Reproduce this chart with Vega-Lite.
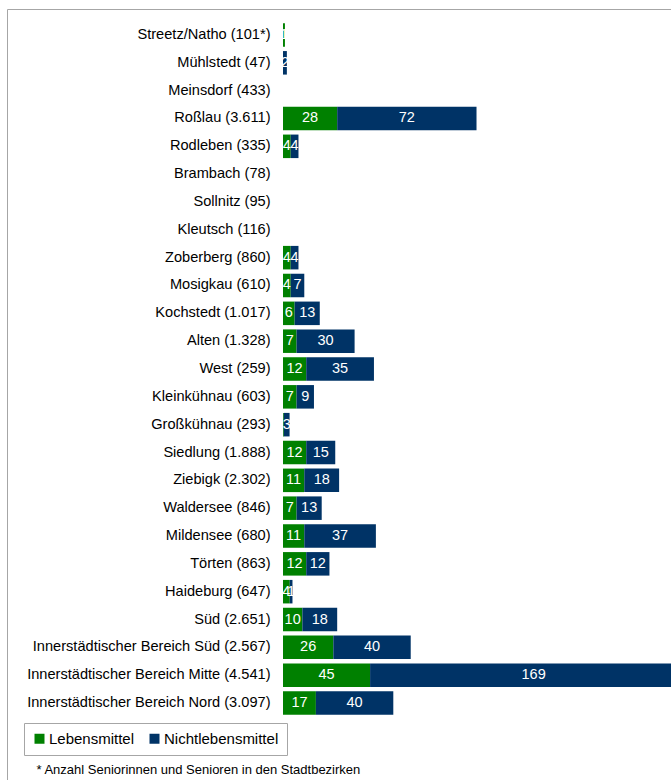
{
  "$schema": "https://vega.github.io/schema/vega-lite/v6.json",
  "autosize": "none",
  "padding": {"left": 7, "top": 9, "right": 0, "bottom": 0},
  "width": 700,
  "height": 772,
  "background": "white",
  "config": {
    "font": "Liberation Sans",
    "view": {"stroke": "#a6a6a6", "strokeWidth": 1}
  },
  "data": {
    "values": [
      {"bezirk": "Streetz/Natho (101*)", "art": "Lebensmittel", "wert": 1},
      {"bezirk": "Streetz/Natho (101*)", "art": "Nichtlebensmittel", "wert": 0},
      {"bezirk": "Mühlstedt (47)", "art": "Lebensmittel", "wert": 0},
      {"bezirk": "Mühlstedt (47)", "art": "Nichtlebensmittel", "wert": 2},
      {"bezirk": "Meinsdorf (433)", "art": "Lebensmittel", "wert": 0},
      {"bezirk": "Meinsdorf (433)", "art": "Nichtlebensmittel", "wert": 0},
      {"bezirk": "Roßlau (3.611)", "art": "Lebensmittel", "wert": 28},
      {"bezirk": "Roßlau (3.611)", "art": "Nichtlebensmittel", "wert": 72},
      {"bezirk": "Rodleben (335)", "art": "Lebensmittel", "wert": 4},
      {"bezirk": "Rodleben (335)", "art": "Nichtlebensmittel", "wert": 4},
      {"bezirk": "Brambach (78)", "art": "Lebensmittel", "wert": 0},
      {"bezirk": "Brambach (78)", "art": "Nichtlebensmittel", "wert": 0},
      {"bezirk": "Sollnitz (95)", "art": "Lebensmittel", "wert": 0},
      {"bezirk": "Sollnitz (95)", "art": "Nichtlebensmittel", "wert": 0},
      {"bezirk": "Kleutsch (116)", "art": "Lebensmittel", "wert": 0},
      {"bezirk": "Kleutsch (116)", "art": "Nichtlebensmittel", "wert": 0},
      {"bezirk": "Zoberberg (860)", "art": "Lebensmittel", "wert": 4},
      {"bezirk": "Zoberberg (860)", "art": "Nichtlebensmittel", "wert": 4},
      {"bezirk": "Mosigkau (610)", "art": "Lebensmittel", "wert": 4},
      {"bezirk": "Mosigkau (610)", "art": "Nichtlebensmittel", "wert": 7},
      {"bezirk": "Kochstedt (1.017)", "art": "Lebensmittel", "wert": 6},
      {"bezirk": "Kochstedt (1.017)", "art": "Nichtlebensmittel", "wert": 13},
      {"bezirk": "Alten (1.328)", "art": "Lebensmittel", "wert": 7},
      {"bezirk": "Alten (1.328)", "art": "Nichtlebensmittel", "wert": 30},
      {"bezirk": "West (259)", "art": "Lebensmittel", "wert": 12},
      {"bezirk": "West (259)", "art": "Nichtlebensmittel", "wert": 35},
      {"bezirk": "Kleinkühnau (603)", "art": "Lebensmittel", "wert": 7},
      {"bezirk": "Kleinkühnau (603)", "art": "Nichtlebensmittel", "wert": 9},
      {"bezirk": "Großkühnau (293)", "art": "Lebensmittel", "wert": 0.4},
      {"bezirk": "Großkühnau (293)", "art": "Nichtlebensmittel", "wert": 3},
      {"bezirk": "Siedlung (1.888)", "art": "Lebensmittel", "wert": 12},
      {"bezirk": "Siedlung (1.888)", "art": "Nichtlebensmittel", "wert": 15},
      {"bezirk": "Ziebigk (2.302)", "art": "Lebensmittel", "wert": 11},
      {"bezirk": "Ziebigk (2.302)", "art": "Nichtlebensmittel", "wert": 18},
      {"bezirk": "Waldersee (846)", "art": "Lebensmittel", "wert": 7},
      {"bezirk": "Waldersee (846)", "art": "Nichtlebensmittel", "wert": 13},
      {"bezirk": "Mildensee (680)", "art": "Lebensmittel", "wert": 11},
      {"bezirk": "Mildensee (680)", "art": "Nichtlebensmittel", "wert": 37},
      {"bezirk": "Törten (863)", "art": "Lebensmittel", "wert": 12},
      {"bezirk": "Törten (863)", "art": "Nichtlebensmittel", "wert": 12},
      {"bezirk": "Haideburg (647)", "art": "Lebensmittel", "wert": 3.5},
      {"bezirk": "Haideburg (647)", "art": "Nichtlebensmittel", "wert": 1.4},
      {"bezirk": "Süd (2.651)", "art": "Lebensmittel", "wert": 10},
      {"bezirk": "Süd (2.651)", "art": "Nichtlebensmittel", "wert": 18},
      {"bezirk": "Innerstädtischer Bereich Süd (2.567)", "art": "Lebensmittel", "wert": 26},
      {"bezirk": "Innerstädtischer Bereich Süd (2.567)", "art": "Nichtlebensmittel", "wert": 40},
      {"bezirk": "Innerstädtischer Bereich Mitte (4.541)", "art": "Lebensmittel", "wert": 45},
      {"bezirk": "Innerstädtischer Bereich Mitte (4.541)", "art": "Nichtlebensmittel", "wert": 169},
      {"bezirk": "Innerstädtischer Bereich Nord (3.097)", "art": "Lebensmittel", "wert": 17},
      {"bezirk": "Innerstädtischer Bereich Nord (3.097)", "art": "Nichtlebensmittel", "wert": 40}
    ]
  },
  "transform": [
    {"stack": "wert", "groupby": ["bezirk"], "sort": [{"field": "art", "order": "ascending"}], "as": ["start", "end"]}
  ],
  "encoding": {
    "y": {
      "field": "bezirk",
      "type": "nominal",
      "sort": null,
      "scale": {"range": [12, 708], "paddingInner": 0.155, "paddingOuter": 0.08},
      "axis": {
        "title": null,
        "ticks": false,
        "domain": false,
        "grid": false,
        "labelPadding": -263,
        "labelFontSize": 14.6,
        "labelColor": "#000000",
        "labelFont": "Liberation Sans",
        "labelLimit": 400
      }
    }
  },
  "layer": [
    {
      "mark": {"type": "bar", "cornerRadius": 0},
      "encoding": {
        "x": {
          "field": "start",
          "type": "quantitative",
          "scale": {"domain": [0, 200.5], "range": [276, 664], "nice": false},
          "axis": {
            "labels": false,
            "ticks": false,
            "domain": false,
            "grid": false,
            "title": "* Anzahl Seniorinnen und Senioren in den Stadtbezirken",
            "titleX": 29,
            "titleY": -12,
            "titleAlign": "left",
            "titleBaseline": "middle",
            "titleFontSize": 13,
            "titleFontWeight": "normal",
            "titleColor": "#000000",
            "titleFont": "Liberation Sans"
          }
        },
        "x2": {"field": "end"},
        "color": {
          "field": "art",
          "type": "nominal",
          "scale": {"domain": ["Lebensmittel", "Nichtlebensmittel"], "range": ["#008000", "#003366"]},
          "legend": {
            "title": null,
            "orient": "none",
            "legendX": 17,
            "legendY": 714,
            "direction": "horizontal",
            "symbolType": "square",
            "symbolSize": 100,
            "symbolStrokeWidth": 0,
            "labelFontSize": 15,
            "labelColor": "#000000",
            "labelFont": "Liberation Sans",
            "labelOffset": 2,
            "columnPadding": 12,
            "strokeColor": "#a6a6a6",
            "padding": 8
          }
        }
      }
    },
    {
      "transform": [
        {"filter": "datum.wert >= 1"},
        {"calculate": "(datum.start + datum.end) / 2", "as": "mitte"}
      ],
      "mark": {"type": "text", "color": "white", "fontSize": 14.5, "font": "Liberation Sans", "align": "center", "baseline": "middle"},
      "encoding": {
        "x": {"field": "mitte", "type": "quantitative"},
        "text": {"field": "wert", "type": "quantitative", "format": ".0f"}
      }
    }
  ]
}
